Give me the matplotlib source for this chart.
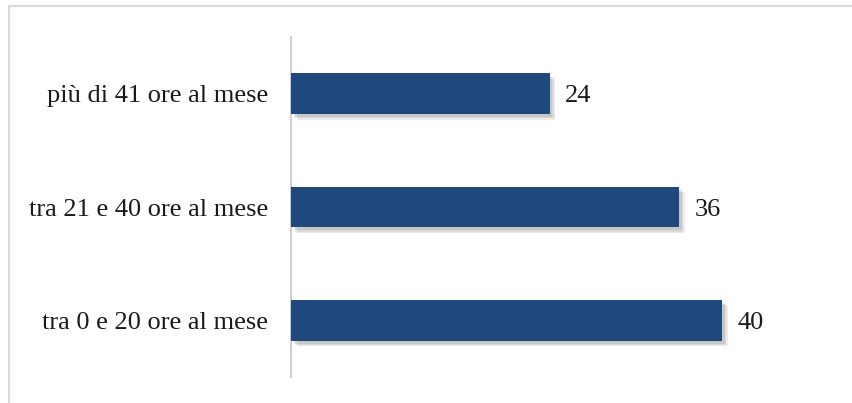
import matplotlib.pyplot as plt
import matplotlib.patheffects as pe
from matplotlib.lines import Line2D

categories = ["tra 0 e 20 ore al mese", "tra 21 e 40 ore al mese", "più di 41 ore al mese"]
values = [40, 36, 24]

plt.rcParams['font.family'] = ['Liberation Serif', 'DejaVu Serif']

fig = plt.figure(figsize=(8.52, 4.03), dpi=100)
ax = fig.add_axes([291/852, 1 - 377/403, 539/852, 340/403])

shadow = [pe.SimplePatchShadow(offset=(d, -d), shadow_rgbFace='black', alpha=0.08) for d in (4, 3, 2)]
bars = ax.barh(range(len(values)), values, height=0.36, color='#1F497D', zorder=3)
for b in bars:
    b.set_path_effects(shadow + [pe.Normal()])

for i, v in enumerate(values):
    ax.text(v + 1.45, i, str(v), va='center_baseline', ha='left', fontsize=19, color='#1a1a1a')

ax.set_xlim(0, 50)
ax.set_ylim(-0.5, 2.5)
ax.set_yticks(range(len(categories)))
ax.set_yticklabels(categories, fontsize=19, color='#1a1a1a', va='center_baseline')
ax.tick_params(axis='y', length=0, pad=16.5)
ax.set_xticks([])
for s in ['top', 'right', 'bottom']:
    ax.spines[s].set_visible(False)
ax.spines['left'].set_color('#d0d0d0')
ax.spines['left'].set_linewidth(1.5)

# light frame around the chart area
fig.add_artist(Line2D([9/852, 1], [1 - 6/403, 1 - 6/403], color='#d9d9d9', lw=1.5))
fig.add_artist(Line2D([9/852, 9/852], [0, 1 - 6/403], color='#d9d9d9', lw=1.5))

fig.savefig('out.png', dpi=100)
